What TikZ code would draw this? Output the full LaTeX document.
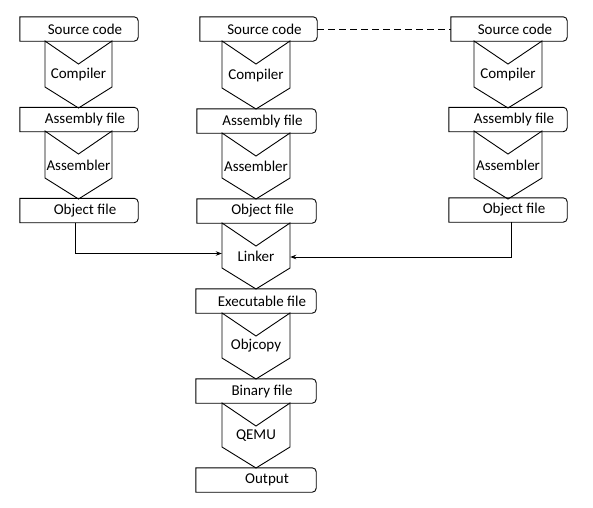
\documentclass[tikz,border=0pt]{standalone}
\usepackage{fontspec}
\setmainfont{Carlito}
\usetikzlibrary{arrows.meta}
\tikzset{
  boxtext/.style={inner sep=0pt, minimum width=#1, minimum height=24pt, font=\fontsize{15}{18}\selectfont},
  chevtext/.style={inner sep=0pt, minimum width=#1, minimum height=14pt, font=\fontsize{15}{18}\selectfont},
  outline/.style={draw=black, line width=0.9pt},
  conn/.style={draw=black, line width=0.9pt, -{Stealth[length=6pt,width=4.5pt]}},
  dashconn/.style={draw=black, line width=0.9pt, dash pattern=on 7pt off 4pt}
}
% name, x1, x2, y1, y2, text offset, text
\newcommand\mybox[7]{%
  \node[boxtext={(#3-#2)*1pt}] (#1) at ({(#2+#3)/2},{(#4+#5)/2}) {\hspace{#6pt}#7};
  \path[outline] (#1.north west) -- ([xshift=-4pt]#1.north east)
    arc[start angle=90,end angle=0,radius=4pt] -- ([yshift=4pt]#1.south east)
    arc[start angle=0,end angle=-90,radius=4pt] -- (#1.south west) -- cycle;
}
% name, cx, hw, top, point, text
\newcommand\mychev[6]{%
  \path[outline] ({#2-#3},#4) -- (#2,{#4+23}) -- ({#2+#3},#4) -- ({#2+#3},{#5-21})
    -- (#2,#5) -- ({#2-#3},{#5-21}) -- cycle;
  \node[chevtext={2*#3*1pt}] (#1) at (#2,{(#4+#5)/2}) {#6};
}
\begin{document}
\begin{tikzpicture}[x=1pt,y=-1pt]
\useasboundingbox (0,0) rectangle (593,507);
% column 1
\mybox{s1}{20}{138}{17}{41}{12}{Source code}
\mychev{c1}{78.5}{33.5}{41}{108}{Compiler}
\mybox{a1}{20}{138}{108}{131}{12}{Assembly file}
\mychev{as1}{78.5}{33.5}{131}{199}{Assembler}
\mybox{o1}{20}{138}{199}{222}{12}{Object file}
% column 2
\mybox{s2}{200}{317}{17}{41}{12}{Source code}
\mychev{c2}{256}{34}{41}{109}{Compiler}
\mybox{a2}{197}{316}{109}{133}{12}{Assembly file}
\mychev{as2}{256}{34}{133}{199}{Assembler}
\mybox{o2}{197}{316}{199}{223}{12}{Object file}
\mychev{lk}{256}{34}{223}{289}{Linker}
\mybox{ex}{196}{316}{289}{313}{12}{Executable file}
\mychev{oc}{256}{34}{313}{379}{Objcopy}
\mybox{bin}{196}{316}{379}{403}{12}{Binary file}
\mychev{qm}{256}{34}{403}{468}{QEMU}
\mybox{out}{196}{316}{468}{492}{22}{Output}
% column 3
\mybox{s3}{451}{567}{17}{41}{12}{Source code}
\mychev{c3}{508}{34}{41}{108}{Compiler}
\mybox{a3}{449}{567}{108}{131}{12}{Assembly file}
\mychev{as3}{508}{34}{131}{199}{Assembler}
\mybox{o3}{449}{567}{199}{221}{12}{Object file}
% connectors
\path[dashconn] (s2.east) -- (s3.west);
\path[conn] ([xshift=-4pt]o1.south) |- ([yshift=2.5pt]lk.west);
\path[conn] ([xshift=3pt]o3.south) |- ([yshift=-1pt]lk.east);
\end{tikzpicture}
\end{document}
